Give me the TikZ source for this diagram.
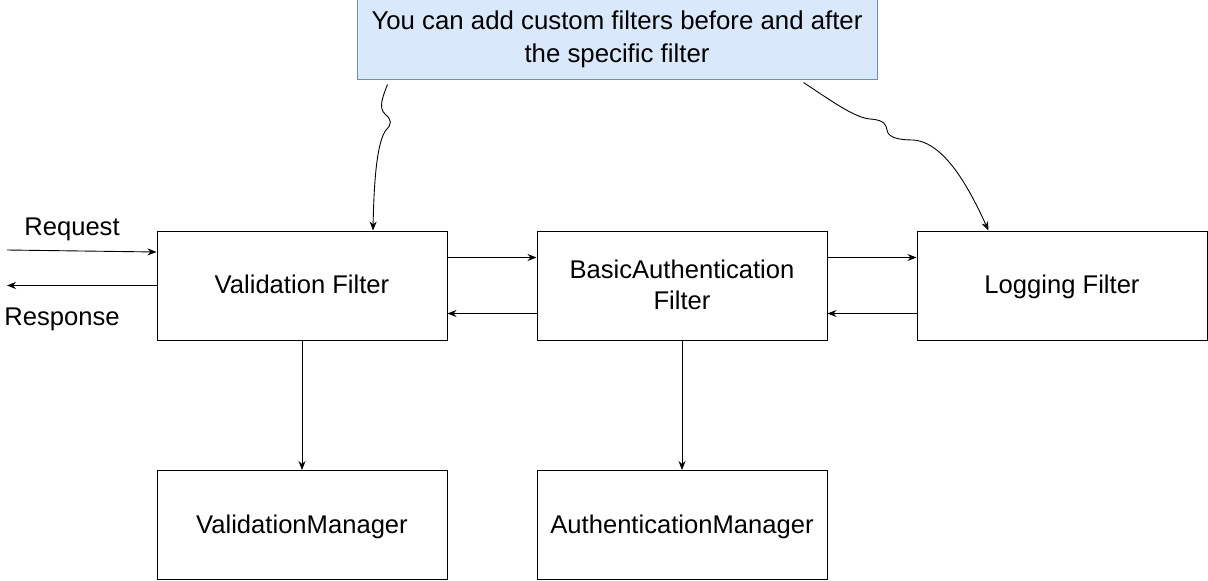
\documentclass[tikz,border=0pt]{standalone}
\usepackage{fontspec}
\setmainfont{Liberation Sans}
\usetikzlibrary{arrows.meta}
\definecolor{notefill}{HTML}{DAE8FC}
\definecolor{noteline}{HTML}{6C8EBF}
\tikzset{
    block/.style={draw, line width=1pt, minimum width=290pt, minimum height=109pt, align=center, text depth=0.22em, font=\fontsize{25.6}{31}\selectfont},
    note/.style={draw=noteline, fill=notefill, line width=1pt, minimum width=520pt, minimum height=80pt, align=center, font=\fontsize{25.8}{33}\selectfont},
    plain/.style={font=\fontsize{25.6}{28}\selectfont},
    flow/.style={-{Stealth[length=9pt, width=7pt]}, line width=0.9pt}
}

\begin{document}
\begin{tikzpicture}[x=1pt, y=-1pt]
    \useasboundingbox (0,0) rectangle (1208,581);
    % note on top
    \node[note] (tip) at (617,39) {You can add custom filters before and after\\the specific filter};
    % filter chain
    \node[block] (valid) at (302,285.5) {Validation Filter};
    \node[block] (basic) at (682,285.5) {BasicAuthentication\\Filter};
    \node[block] (logging) at (1062,285.5) {Logging Filter};
    % managers
    \node[block] (validmgr) at (302,525) {ValidationManager};
    \node[block] (authmgr) at (682,525) {AuthenticationManager};
    % client side
    \coordinate (req) at (7,250);
    \coordinate (resp) at (7,285.5);
    \node[plain] (reqtxt) at (72,229) {Request};
    \node[plain] (resptxt) at (62,319) {Response};

    \draw[flow] (req) -- ([yshift=33.5pt]valid.west);
    \draw[flow] (valid.west) -- (resp);
    \draw[flow] ([yshift=-27pt]valid.north east) -- ([yshift=-27pt]basic.north west);
    \draw[flow] ([yshift=27pt]basic.south west) -- ([yshift=27pt]valid.south east);
    \draw[flow] ([yshift=-27pt]basic.north east) -- ([yshift=-27pt]logging.north west);
    \draw[flow] ([yshift=27pt]logging.south west) -- ([yshift=27pt]basic.south east);
    \draw[flow] (valid) -- (validmgr);
    \draw[flow] (basic) -- (authmgr);

    % curved hints from the note
    \draw[flow] ([xshift=31pt,yshift=-5pt]tip.south west) .. controls (383,96) and (378,108) .. (385,114)
        .. controls (392,120) and (392,124) .. (386,130)
        .. controls (377,142) and (374,180) .. ([xshift=71pt]valid.north);
    \draw[flow] ([xshift=-74pt,yshift=-3pt]tip.south east) .. controls (830,100) and (855,118) .. (870,119)
        .. controls (885,120) and (886,125) .. (887,130)
        .. controls (888,138) and (900,140) .. (913,140)
        .. controls (945,142) and (970,190) .. ([xshift=72pt]logging.north west);
\end{tikzpicture}
\end{document}
